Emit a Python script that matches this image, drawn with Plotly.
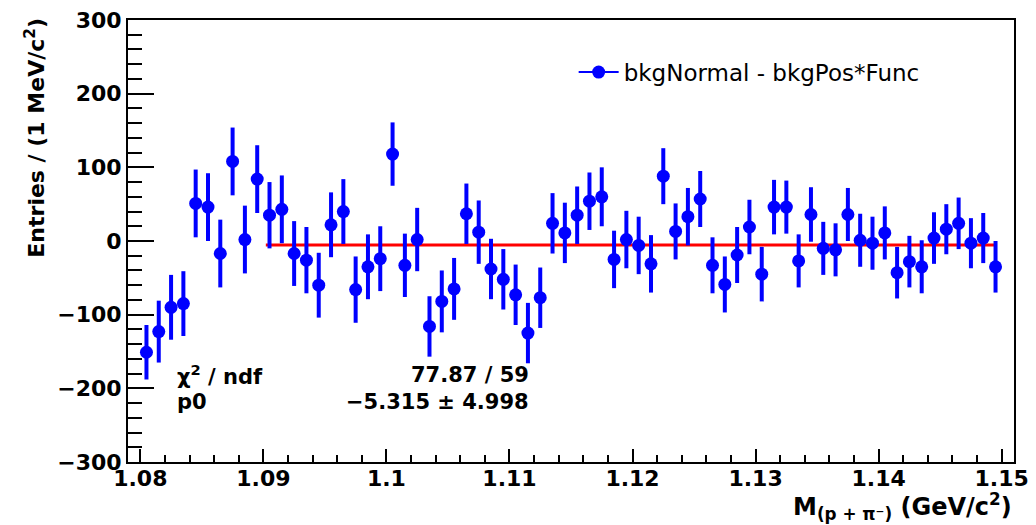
import plotly.graph_objects as go

# bin centres (GeV/c^2), 1 MeV bins
mass = [1.0805, 1.0815, 1.0825, 1.0835, 1.0845, 1.0855, 1.0865, 1.0875, 1.0885, 1.0895,
        1.0905, 1.0915, 1.0925, 1.0935, 1.0945, 1.0955, 1.0965, 1.0975, 1.0985, 1.0995,
        1.1005, 1.1015, 1.1025, 1.1035, 1.1045, 1.1055, 1.1065, 1.1075, 1.1085, 1.1095,
        1.1105, 1.1115, 1.1125, 1.1135, 1.1145, 1.1155, 1.1165, 1.1175, 1.1185, 1.1195,
        1.1205, 1.1215, 1.1225, 1.1235, 1.1245, 1.1255, 1.1265, 1.1275, 1.1285, 1.1295,
        1.1305, 1.1315, 1.1325, 1.1335, 1.1345, 1.1355, 1.1365, 1.1375, 1.1385, 1.1395,
        1.1405, 1.1415, 1.1425, 1.1435, 1.1445, 1.1455, 1.1465, 1.1475, 1.1485, 1.1495]

# bkgNormal - bkgPos*Func
entries = [-151, -123, -90, -85, 51, 46, -17, 108, 2, 84,
           35, 43, -17, -26, -60, 22, 40, -66, -35, -24,
           118, -33, 2, -116, -82, -65, 37, 12, -38, -52,
           -73, -125, -77, 24, 11, 35, 54, 60, -25, 2,
           -6, -31, 88, 13, 33, 57, -33, -59, -19, 19,
           -45, 46, 46, -27, 36, -10, -12, 36, 1, -3,
           11, -43, -28, -35, 4, 16, 24, -3, 4, -35]

errors = [37, 42, 44, 44, 46, 46, 46, 46, 46, 46,
          45, 46, 44, 45, 44, 44, 44, 45, 44, 44,
          43, 43, 43, 41, 42, 42, 41, 43, 41, 41,
          41, 41, 41, 41, 41, 39, 39, 40, 39, 39,
          39, 39, 38, 38, 39, 38, 38, 38, 38, 37,
          37, 37, 36, 36, 37, 36, 36, 36, 36, 36,
          36, 35, 35, 36, 35, 34, 35, 34, 34, 35]

# pol0 fit
fit_range = [1.0902, 1.1495]
p0 = -5.315
p0_err = 4.998
chi2 = 77.87
ndf = 59

BLUE = 'rgb(0,0,255)'
RED = 'rgb(255,0,0)'
FONT = 'DejaVu Sans'

fig = go.Figure()

# fit line
fig.add_trace(go.Scatter(
    x=fit_range, y=[p0, p0],
    mode='lines', line=dict(color=RED, width=3),
    showlegend=False, hoverinfo='skip',
))

# data points
fig.add_trace(go.Scatter(
    x=mass, y=entries,
    mode='markers',
    marker=dict(color=BLUE, size=13, symbol='circle'),
    error_y=dict(type='data', array=errors, color=BLUE, thickness=4, width=0),
    showlegend=False,
))

# legend entry (ROOT style: line + marker)
fig.add_trace(go.Scatter(
    x=[None], y=[None],
    mode='lines+markers',
    name='bkgNormal - bkgPos*Func',
    line=dict(color=BLUE, width=2),
    marker=dict(color=BLUE, size=13),
))

axis_common = dict(
    showline=True, linecolor='black', linewidth=2, mirror=True,
    ticks='inside', tickcolor='black', tickwidth=2,
    showgrid=False, zeroline=False, automargin=False,
)

fig.update_xaxes(
    range=[1.079, 1.151], tick0=1.08, dtick=0.01, ticklen=13,
    ticklabelstandoff=-4,
    tickfont=dict(family=FONT, size=22, color='black', weight='bold'),
    minor=dict(ticks='inside', dtick=0.002, ticklen=7, tickwidth=2, tickcolor='black'),
    **axis_common,
)
fig.update_yaxes(
    range=[-300, 300], tick0=0, dtick=100, ticklen=26,
    tickfont=dict(family=FONT, size=22, color='black', weight='bold'),
    minor=dict(ticks='inside', dtick=20, ticklen=14, tickwidth=2, tickcolor='black'),
    **axis_common,
)

# axis titles, aligned at the end like ROOT
fig.add_annotation(
    text='Entries / (1 MeV/c<sup>2</sup>)', textangle=-90,
    xref='paper', yref='paper', x=-0.106, y=1.01, xanchor='center', yanchor='top',
    showarrow=False, font=dict(family=FONT, size=22, color='black', weight='bold'),
)
fig.add_annotation(
    text='M<sub>(p + π⁻)</sub> (GeV/c<sup>2</sup>)',
    xref='paper', yref='paper', x=1.0, y=-0.057, xanchor='right', yanchor='top',
    showarrow=False, font=dict(family=FONT, size=24, color='black', weight='bold'),
)

# fit statistics
stat_font = dict(family=FONT, size=21, color='black', weight='bold')
fig.add_annotation(text='χ<sup>2</sup> / ndf', xref='paper', yref='paper',
                   x=0.053, y=0.196, xanchor='left', yanchor='middle',
                   showarrow=False, font=stat_font)
fig.add_annotation(text=f'{chi2:.2f} / {ndf}', xref='paper', yref='paper',
                   x=0.455, y=0.196, xanchor='right', yanchor='middle',
                   showarrow=False, font=stat_font)
fig.add_annotation(text='p0', xref='paper', yref='paper',
                   x=0.053, y=0.136, xanchor='left', yanchor='middle',
                   showarrow=False, font=stat_font)
fig.add_annotation(text=f'−{abs(p0):.3f} ± {p0_err:.3f}', xref='paper', yref='paper',
                   x=0.455, y=0.136, xanchor='right', yanchor='middle',
                   showarrow=False, font=stat_font)

fig.update_layout(
    width=1036, height=525,
    margin=dict(l=128, r=22, t=20, b=63, autoexpand=False),
    plot_bgcolor='white', paper_bgcolor='white',
    legend=dict(
        x=0.503, y=0.882, xanchor='left', yanchor='middle',
        bgcolor='rgba(0,0,0,0)', borderwidth=0,
        font=dict(family=FONT, size=23, color='black'),
        itemwidth=40,
    ),
)

# drop the default page margin so the figure fills the window exactly
fig.write_html("out.html", config={'displayModeBar': False},
               post_script="document.body.style.margin = '0';")
